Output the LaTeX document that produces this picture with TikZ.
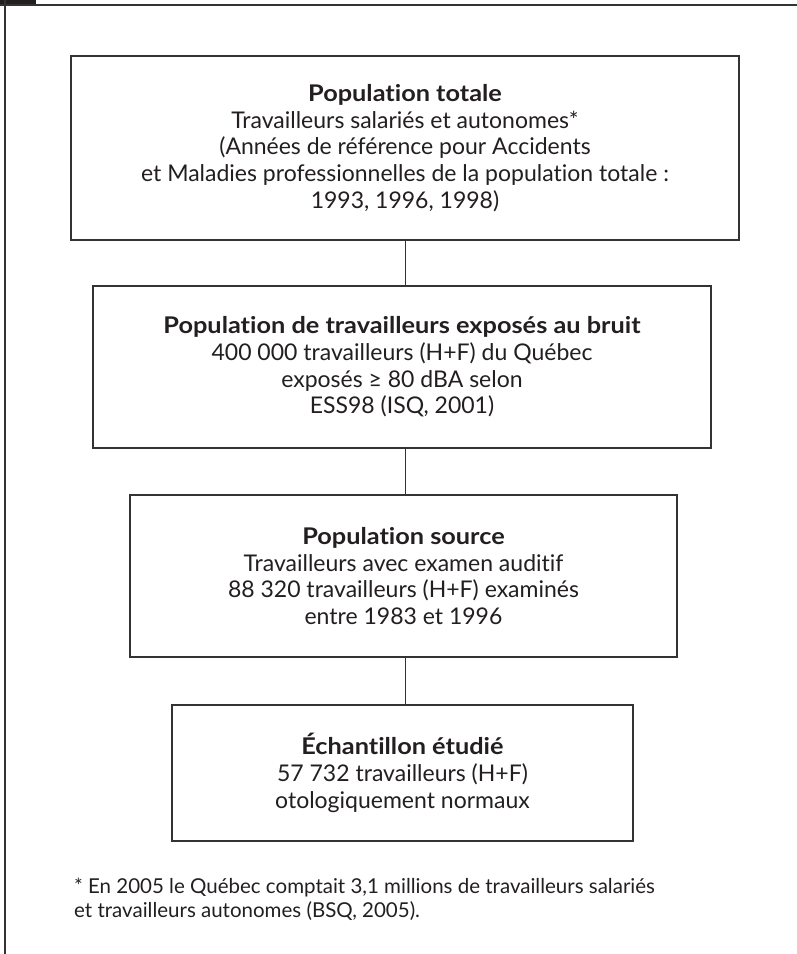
\documentclass[tikz,border=0pt]{standalone}
\usepackage{fontspec}
\setmainfont{Lato}[Ligatures={NoCommon}, BoldFeatures={FakeStretch=1.1}]
\newlength{\du}
\setlength{\du}{1pt}
\definecolor{dialinecolor}{rgb}{0.200000, 0.200000, 0.200000}
\definecolor{diatextcolor}{rgb}{0.137255, 0.121569, 0.125490}
\tikzset{
  popbox/.style={draw=dialinecolor, line width=1.300000\du, fill=white,
    text=diatextcolor, align=center, inner sep=0pt,
    font=\fontsize{23}{26.7}\selectfont},
  popline/.style={draw=dialinecolor, line width=1.000000\du},
  frameline/.style={draw=dialinecolor, line width=1.600000\du}
}

\begin{document}
\begin{tikzpicture}
\pgftransformxscale{1.000000}
\pgftransformyscale{-1.000000}
\useasboundingbox (0\du,0\du) rectangle (797\du,954\du);
% frame
\fill[diatextcolor] (0\du,0\du) rectangle (36\du,6\du);
\draw[frameline] (5\du,0\du)--(5\du,954\du);
\draw[frameline] (0\du,5\du)--(797\du,5\du);
% boxes
\node[popbox, minimum width=668\du, minimum height=184\du] (totale) at (405\du,148\du){\textbf{Population totale}\\Travailleurs salariés et autonomes*\\(Années de référence pour Accidents\\et Maladies professionnelles de la population totale :\\1993, 1996, 1998)};
\node[popbox, minimum width=618\du, minimum height=162\du] (bruit) at (402\du,367\du){\textbf{Population de travailleurs exposés au bruit}\\400 000 travailleurs (H+F) du Québec\\exposés ≥ 80 dBA selon\\ESS98 (ISQ, 2001)};
\node[popbox, minimum width=547\du, minimum height=162\du] (source) at (403.5\du,576\du){\textbf{Population source}\\Travailleurs avec examen auditif\\88 320 travailleurs (H+F) examinés\\entre 1983 et 1996};
\node[popbox, minimum width=461\du, minimum height=136\du] (echantillon) at (402.5\du,773\du){\textbf{Échantillon étudié}\\57 732 travailleurs (H+F)\\otologiquement normaux};
% connectors
\draw[popline] (totale.south)--(totale.south |- bruit.north);
\draw[popline] (totale.south |- bruit.south)--(totale.south |- source.north);
\draw[popline] (totale.south |- source.south)--(totale.south |- echantillon.north);
% footnote
\node[anchor=north west, align=left, inner sep=0pt, text=diatextcolor, font=\fontsize{20.5}{24}\selectfont] (note) at (74\du,878\du){* En 2005 le Québec comptait 3,1 millions de travailleurs salariés\\et travailleurs autonomes (BSQ, 2005).};
\end{tikzpicture}
\end{document}
